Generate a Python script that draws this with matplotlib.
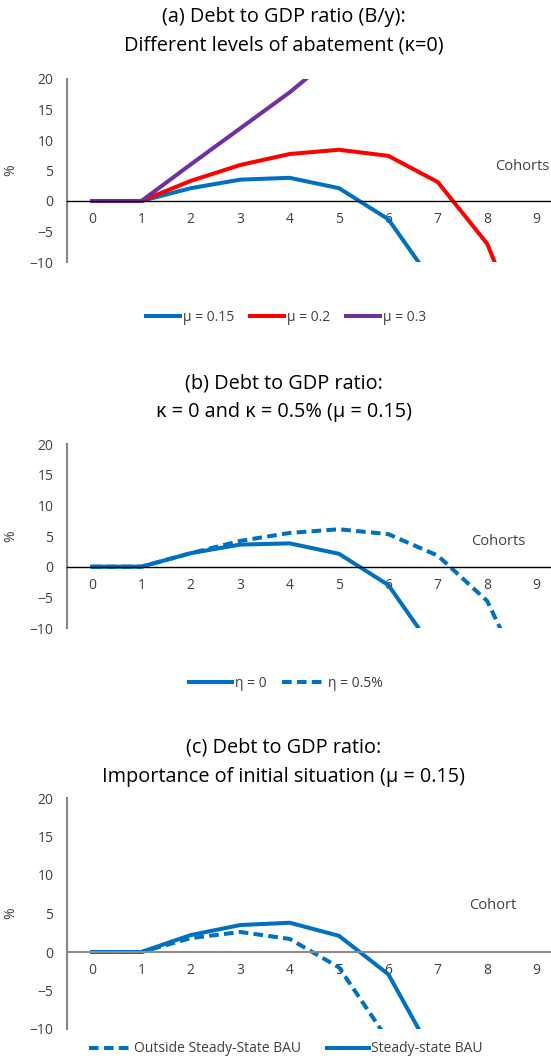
import matplotlib.pyplot as plt

plt.rcParams['font.family'] = ['Open Sans', 'DejaVu Sans']

cohorts = list(range(10))
y_ticks = [-10, -5, 0, 5, 10, 15, 20]

# panel (a): different levels of abatement
mu_015 = [0, 0, 2.1, 3.5, 3.8, 2.1, -3.0, -14.5]
mu_02 = [0, 0, 3.3, 5.9, 7.7, 8.4, 7.4, 3.1, -7.0, -27.0]
mu_03 = [0, 0, 6.0, 11.9, 17.8, 24.5]

# panel (b): kappa = 0 and kappa = 0.5%
eta_0 = [0, 0, 2.2, 3.6, 3.8, 2.1, -3.0, -14.5]
eta_05 = [0, 0, 2.2, 4.2, 5.5, 6.1, 5.3, 1.8, -5.6, -22.5]

# panel (c): importance of initial situation
outside_ss = [0, 0, 1.8, 2.6, 1.7, -2.0, -11.5]
steady_ss = [0, 0, 2.2, 3.5, 3.8, 2.1, -2.9, -14.5]

titles = [
    ['(a) Debt to GDP ratio (B/y):', 'Different levels of abatement (κ=0)'],
    ['(b) Debt to GDP ratio:', 'κ = 0 and κ = 0.5% (μ = 0.15)'],
    ['(c) Debt to GDP ratio:', 'Importance of initial situation (μ = 0.15)'],
]
cohort_labels = ['Cohorts', 'Cohorts', 'Cohort']

BLUE = '#0070C0'
RED = '#FF0000'
PURPLE = '#7030A0'
TXT = '#404040'
W, H = 551, 1061
LW = 2.9
DASH = (2.4, 1.3)

fig = plt.figure(figsize=(W / 100, H / 100), dpi=100)

# axes boxes in pixels: top, bottom of the plotting area
boxes = [(79, 262), (444, 628), (798, 1029)]
title_y = [(17, 45), (383, 412), (748, 777)]
legend_y = [317.7, 683.3, 1049]
cohort_pos = [(8.17, 5.6), (7.67, 4.1), (7.63, 6.1)]
zero_color = ['black', 'black', '#8c8c8c']
zero_lw = [1.0, 1.0, 1.5]

axes = []
for i, (top, bot) in enumerate(boxes):
    ax = fig.add_axes([67.3 / W, 1 - bot / H, 494 / W, (bot - top) / H])
    ax.set_xlim(-0.5, 9.5)
    ax.set_ylim(-10, 20)
    ax.set_yticks(y_ticks)
    ax.set_xticks(cohorts)
    for s in ['top', 'right']:
        ax.spines[s].set_visible(False)
    ax.spines['left'].set_color('#868686')
    ax.spines['left'].set_linewidth(1.5)
    ax.spines['bottom'].set_position(('data', 0))
    ax.spines['bottom'].set_color(zero_color[i])
    ax.spines['bottom'].set_linewidth(zero_lw[i])
    ax.tick_params(axis='both', length=0, labelsize=10, labelcolor=TXT)
    ax.tick_params(axis='x', pad=8)
    ax.tick_params(axis='y', pad=10)
    ax.set_ylabel('%', fontsize=10, color=TXT)
    ax.yaxis.set_label_coords(-49 / 494, 0.5)
    ax.text(cohort_pos[i][0], cohort_pos[i][1], cohort_labels[i],
            fontsize=10.5, color=TXT, ha='left', va='center')
    for line, y in zip(titles[i], title_y[i]):
        fig.text(284 / W, 1 - y / H, line, fontsize=14.3, color='black',
                 ha='center', va='center')
    axes.append(ax)

ax = axes[0]
ax.plot(cohorts[:len(mu_015)], mu_015, color=BLUE, lw=LW, label='μ = 0.15')
ax.plot(cohorts[:len(mu_02)], mu_02, color=RED, lw=LW, label='μ = 0.2')
ax.plot(cohorts[:len(mu_03)], mu_03, color=PURPLE, lw=LW, label='μ = 0.3')

ax = axes[1]
ax.plot(cohorts[:len(eta_0)], eta_0, color=BLUE, lw=LW, label='η = 0')
ax.plot(cohorts[:len(eta_05)], eta_05, color=BLUE, lw=LW, dashes=DASH,
        label='η = 0.5%')

ax = axes[2]
ax.plot(cohorts[:len(outside_ss)], outside_ss, color=BLUE, lw=LW,
        dashes=DASH, label='Outside Steady-State BAU')
ax.plot(cohorts[:len(steady_ss)], steady_ss, color=BLUE, lw=LW,
        label='Steady-state BAU')

handle_len = [2.5, 3.1, 3.0]
col_space = [1.1, 1.1, 1.9]
for i, ax in enumerate(axes):
    leg = ax.legend(loc='center', bbox_to_anchor=(286 / W, 1 - legend_y[i] / H),
                    bbox_transform=fig.transFigure, ncol=3, frameon=False,
                    fontsize=10, handlelength=handle_len[i], handletextpad=0.2,
                    columnspacing=col_space[i], borderpad=0)
    for t in leg.get_texts():
        t.set_color(TXT)

fig.savefig('out.png', dpi=100)
